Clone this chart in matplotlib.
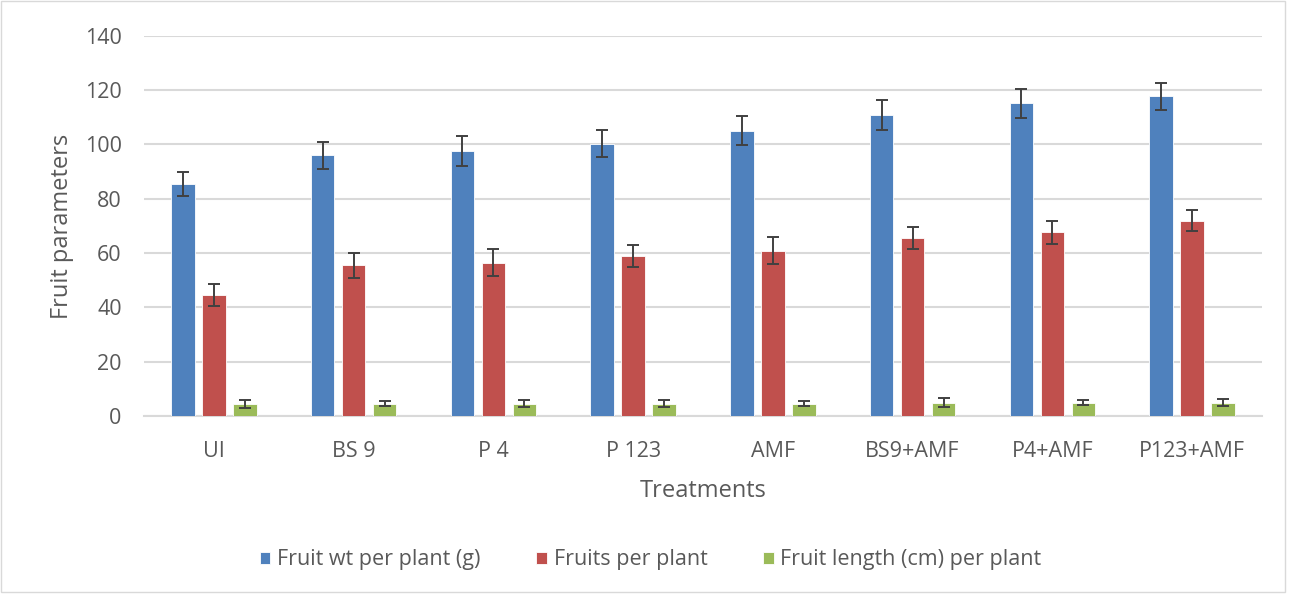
import matplotlib
matplotlib.use("Agg")
import matplotlib.pyplot as plt
import numpy as np
from matplotlib.patches import Rectangle

categories = ["UI", "BS 9", "P 4", "P 123", "AMF", "BS9+AMF", "P4+AMF", "P123+AMF"]
fruit_wt = [85.5, 96.0, 97.5, 100.3, 105.1, 110.9, 115.2, 117.7]
fruit_wt_err = [4.4, 5.0, 5.5, 5.0, 5.4, 5.4, 5.4, 5.0]
fruits = [44.5, 55.5, 56.5, 59.0, 60.9, 65.6, 67.7, 72.0]
fruits_err = [4.0, 4.6, 5.0, 4.0, 4.9, 4.0, 4.3, 4.0]
fruit_len = [4.6, 4.6, 4.6, 4.6, 4.6, 5.0, 5.0, 5.0]
fruit_len_err = [1.5, 0.8, 1.4, 1.3, 1.0, 1.6, 1.0, 1.2]
series_names = ["Fruit wt per plant (g)", "Fruits per plant", "Fruit length (cm) per plant"]
yticks = [0, 20, 40, 60, 80, 100, 120, 140]

colors = ["#4F81BD", "#C0504D", "#9BBB59"]
font = "Open Sans"
tc = "#595959"

fig = plt.figure(figsize=(12.91, 5.97), dpi=100)
ax = fig.add_axes([0.1115, 0.303, 0.866, 0.637])

x = np.arange(len(categories))
w = 0.168
off = 0.222
data = [(fruit_wt, fruit_wt_err), (fruits, fruits_err), (fruit_len, fruit_len_err)]
handles = []
for i, (vals, errs) in enumerate(data):
    b = ax.bar(x + (i - 1) * off, vals, width=w, color=colors[i], label=series_names[i],
               zorder=3, edgecolor="white", linewidth=0.6)
    ax.errorbar(x + (i - 1) * off, vals, yerr=errs, fmt="none", ecolor="#404040",
                elinewidth=1.4, capsize=4.3, capthick=1.4, zorder=4)
    handles.append(b)

ax.set_xlim(-0.5, len(categories) - 0.5)
ax.set_ylim(0, 140)
ax.set_yticks(yticks)
ax.set_xticks(x)
ax.set_xticklabels(categories)
ax.yaxis.grid(True, color="#D9D9D9", linewidth=1.5, zorder=0)
ax.set_axisbelow(True)
for s in ["top", "right", "left"]:
    ax.spines[s].set_visible(False)
ax.spines["bottom"].set_color("#D9D9D9")
ax.spines["bottom"].set_linewidth(1.5)
ax.tick_params(axis="both", length=0, labelsize=15.5, colors=tc)
ax.tick_params(axis="x", pad=18)
ax.tick_params(axis="y", pad=16)
for lab in ax.get_xticklabels() + ax.get_yticklabels():
    lab.set_fontfamily(font)

ax.set_ylabel("Fruit parameters", fontsize=17, color=tc, fontfamily=font, labelpad=8)
ax.set_xlabel("Treatments", fontsize=17, color=tc, fontfamily=font, labelpad=12)

leg = fig.legend(handles=handles, labels=series_names, loc="center", ncol=3,
                 bbox_to_anchor=(0.504, 0.062), frameon=False, handlelength=0.5,
                 handleheight=0.5, columnspacing=2.6, handletextpad=0.3,
                 prop={"family": font, "size": 15.5})
for t in leg.get_texts():
    t.set_color(tc)

fig.patches.append(Rectangle((0.001, 0.008), 0.994, 0.99, transform=fig.transFigure,
                             fill=False, edgecolor="#D9D9D9", linewidth=1.0))

fig.savefig("out.png", dpi=100, facecolor="white")
